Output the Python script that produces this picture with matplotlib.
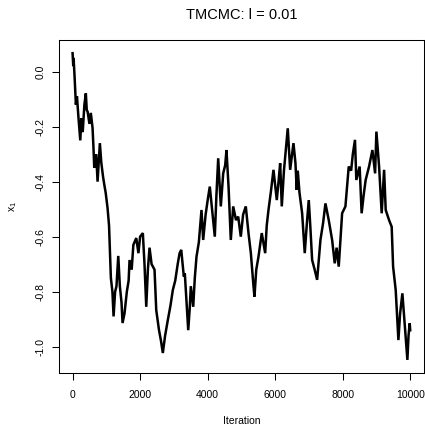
import matplotlib
matplotlib.use("Agg")
import matplotlib.pyplot as plt

# ── Data ───────────────────────────────────────────────────────────────────────
iteration = [
    0, 20, 30, 60, 98, 130, 170, 228, 260, 300, 350, 393, 420, 444, 500, 540,
    592, 620, 642, 700, 740, 780, 808, 850, 900, 938, 980, 1036, 1080, 1134,
    1180, 1214, 1260, 1300, 1353, 1400, 1450, 1480, 1539, 1607, 1660, 1687,
    1750, 1800, 1886, 1950, 2000, 2081, 2130, 2182, 2230, 2279, 2340, 2427,
    2478, 2560, 2620, 2673, 2740, 2821, 2900, 2969, 3040, 3117, 3170, 3218,
    3260, 3295, 3324, 3380, 3425, 3470, 3502, 3540, 3573, 3620, 3670, 3740,
    3818, 3868, 3940, 4010, 4064, 4130, 4212, 4260, 4313, 4350, 4390, 4461,
    4520, 4558, 4620, 4686, 4757, 4840, 4905, 4982, 5050, 5130, 5210, 5280,
    5358, 5387, 5440, 5506, 5603, 5704, 5750, 5802, 5870, 5950, 6048, 6100,
    6148, 6196, 6260, 6320, 6373, 6444, 6542, 6601, 6639, 6669, 6720, 6799,
    6876, 6940, 6995, 7040, 7095, 7170, 7243, 7341, 7420, 7489, 7587, 7687,
    7764, 7820, 7883, 7940, 7983, 8081, 8179, 8250, 8300, 8364, 8404, 8502,
    8561, 8620, 8680, 8781, 8880, 8960, 8998, 9078, 9155, 9226, 9274, 9374,
    9451, 9493, 9570, 9650, 9700, 9768, 9819, 9870, 9916, 9950, 9984, 10000,
]
x1 = [
    0.067, 0.02, 0.05, -0.02, -0.12, -0.09, -0.16, -0.25, -0.17, -0.22, -0.12,
    -0.079, -0.14, -0.145, -0.19, -0.15, -0.205, -0.28, -0.35, -0.30, -0.40,
    -0.32, -0.26, -0.33, -0.38, -0.41, -0.44, -0.496, -0.56, -0.75, -0.80,
    -0.89, -0.80, -0.78, -0.67, -0.78, -0.84, -0.914, -0.878, -0.80, -0.76,
    -0.685, -0.72, -0.63, -0.605, -0.66, -0.60, -0.587, -0.70, -0.855, -0.72,
    -0.64, -0.70, -0.72, -0.867, -0.94, -0.98, -1.023, -0.96, -0.903, -0.85,
    -0.794, -0.76, -0.697, -0.66, -0.648, -0.70, -0.745, -0.733, -0.85, -0.94,
    -0.86, -0.78, -0.82, -0.855, -0.75, -0.673, -0.62, -0.503, -0.612, -0.52,
    -0.46, -0.418, -0.50, -0.60, -0.45, -0.315, -0.40, -0.49, -0.37, -0.34,
    -0.285, -0.42, -0.612, -0.49, -0.54, -0.527, -0.60, -0.52, -0.49, -0.587,
    -0.66, -0.78, -0.818, -0.72, -0.673, -0.587, -0.66, -0.56, -0.503, -0.44,
    -0.357, -0.467, -0.40, -0.333, -0.49, -0.36, -0.28, -0.206, -0.357, -0.26,
    -0.333, -0.43, -0.36, -0.44, -0.515, -0.66, -0.55, -0.467, -0.56, -0.685,
    -0.72, -0.757, -0.612, -0.55, -0.479, -0.54, -0.612, -0.697, -0.64, -0.709,
    -0.60, -0.515, -0.49, -0.345, -0.36, -0.30, -0.248, -0.394, -0.345, -0.515,
    -0.45, -0.394, -0.345, -0.285, -0.37, -0.218, -0.345, -0.515, -0.357,
    -0.503, -0.54, -0.564, -0.709, -0.794, -0.976, -0.88, -0.806, -0.891,
    -0.98, -1.048, -0.96, -0.915, -0.94,
]
x_ticks = [0, 2000, 4000, 6000, 8000, 10000]
y_ticks = [0.0, -0.2, -0.4, -0.6, -0.8, -1.0]

plt.rcParams["font.family"] = ["Liberation Sans", "DejaVu Sans"]

fig = plt.figure(figsize=(4.25, 4.30), dpi=100)
ax = fig.add_axes([0.139, 0.1326, 0.858, 0.7744])

ax.plot(iteration, x1, color="black", linewidth=1.8, solid_joinstyle="miter")

# R-style 4% padding
ax.set_xlim(-400, 10400)
ax.set_ylim(-1.0956, 0.115)

ax.set_xticks(x_ticks)
ax.set_xticklabels([str(t) for t in x_ticks])
ax.set_yticks(y_ticks)
ax.set_yticklabels([f"{t:.1f}" for t in y_ticks], rotation=90, va="center")

ax.tick_params(axis="both", direction="out", length=5, width=0.75, labelsize=7.5)
ax.tick_params(axis="x", pad=7.5)
ax.tick_params(axis="y", pad=5)
for sp in ax.spines.values():
    sp.set_linewidth(0.75)

ax.set_xlabel("Iteration", fontsize=7.5, labelpad=11)
ax.set_ylabel(r"$\mathregular{x_1}$", fontsize=7.5, labelpad=12)
ax.set_title("TMCMC: l = 0.01", fontsize=10.5, pad=15)

fig.savefig("out.png", dpi=100)
